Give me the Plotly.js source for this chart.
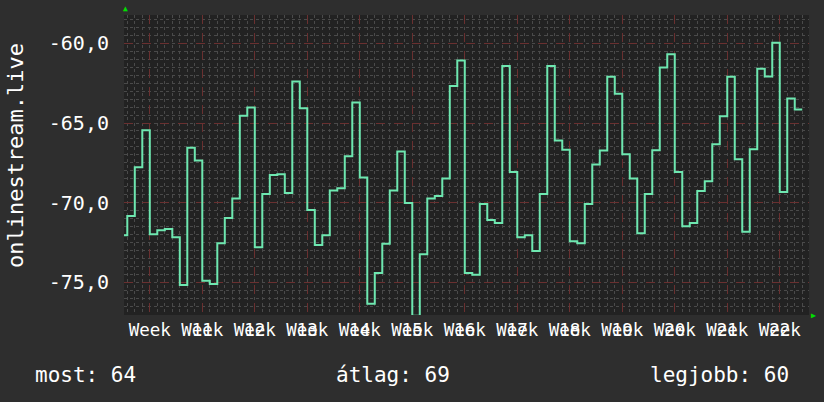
<!DOCTYPE html>
<html>
<head>
<meta charset="utf-8">
<script src="https://cdn.plot.ly/plotly-3.0.1.min.js"></script>
<style>
  html, body { margin: 0; padding: 0; background: #2e2e2e; }
  #graf { width: 824px; height: 402px; }
</style>
</head>
<body>
<div id="graf"></div>
<script>
// daily values, first one is only partly visible at the left edge
let values = [
  -72.04,
  -70.83, -67.77, -65.46, -71.98, -71.73, -71.65, -72.17, -75.17, -66.56, -67.35,
  -74.90, -75.10, -72.54, -70.96, -69.73, -64.54, -64.02, -72.79, -69.46, -68.27,
  -68.21, -69.40, -62.40, -64.08, -70.46, -72.65, -72.04, -69.23, -69.10, -67.08,
  -63.71, -68.42, -76.35, -74.42, -72.58, -69.23, -66.79, -70.02, -77.10, -73.23,
  -69.73, -69.58, -68.48, -62.67, -61.08, -74.42, -74.52, -70.08, -71.08, -71.27,
  -61.42, -68.08, -72.17, -72.04, -73.04, -69.46, -61.42, -66.10, -66.67, -72.42,
  -72.54, -70.08, -67.60, -66.73, -62.10, -63.17, -66.96, -68.48, -71.92, -69.46,
  -66.71, -61.52, -60.69, -68.08, -71.48, -71.27, -69.27, -68.65, -66.33, -64.58,
  -62.10, -67.27, -71.83, -66.65, -61.60, -62.08, -59.96, -69.33, -63.46, -64.15
];
let weekStarts = [3, 10, 17, 24, 31, 38, 45, 52, 59, 66, 73, 80, 87];
let weekNumbers = ['', '11', '12', '13', '14', '15', '16', '17', '18', '19', '20', '21', '22'];
let yTicks = [-60, -65, -70, -75];
let summary = ['most: 64', 'átlag: 69', 'legjobb: 60'];
let seriesName = 'onlinestream.live';

function drawGraf() {
  let days = values.map((v, i) => i - 1);
  // extra point so the last step gets its width
  let xs = days.concat([days[days.length - 1] + 1]);
  let ys = values.concat([values[values.length - 1]]);

  let font = 'DejaVu Sans Mono, monospace';
  let range = [-0.44, 90.9];

  let line = {
    x: xs, y: ys,
    type: 'scatter', mode: 'lines',
    line: { shape: 'hv', color: '#6ee7b0', width: 2 },
    hoverinfo: 'skip',
  };
  // invisible trace so the number axis is drawn
  let dummy = {
    x: [days[1]], y: [values[1]], xaxis: 'x2',
    type: 'scatter', mode: 'markers', marker: { opacity: 0 }, hoverinfo: 'skip',
  };

  let layout = {
    width: 824, height: 402,
    margin: { l: 124, r: 15, t: 15, b: 87 },
    paper_bgcolor: '#2e2e2e',
    plot_bgcolor: '#222222',
    showlegend: false,
    font: { family: font, color: '#ffffff' },
    xaxis: {
      range: range,
      tickmode: 'array',
      tickvals: weekStarts,
      ticktext: weekStarts.map(() => 'Week'),
      tickfont: { size: 17.5, family: font, color: '#ffffff' },
      ticks: '',
      ticklabelstandoff: 2,
      showgrid: true, gridcolor: '#6a3030', griddash: 'dash', gridwidth: 1,
      zeroline: false, showline: false,
      minor: { tickmode: 'linear', tick0: 0, dtick: 1, showgrid: true, gridcolor: '#4a4a4a', griddash: 'dot', gridwidth: 1 },
      fixedrange: true,
    },
    xaxis2: {
      range: range,
      overlaying: 'x', side: 'bottom', anchor: 'y',
      tickmode: 'array',
      tickvals: weekStarts,
      ticktext: weekNumbers,
      tickfont: { size: 17.5, family: font, color: '#ffffff' },
      ticks: '',
      ticklabelstandoff: 2,
      showgrid: false, zeroline: false, showline: false,
      fixedrange: true,
    },
    yaxis: {
      range: [-77.05, -58.22],
      tickmode: 'array',
      tickvals: yTicks,
      ticktext: yTicks.map(v => v.toFixed(1).replace('.', ',')),
      tickfont: { size: 20, family: font, color: '#ffffff' },
      ticks: '',
      ticklabelstandoff: 14,
      showgrid: true, gridcolor: '#6a3030', griddash: 'dash', gridwidth: 1,
      zeroline: false, showline: false,
      minor: { tickmode: 'linear', tick0: 0, dtick: 0.5, showgrid: true, gridcolor: '#4a4a4a', griddash: 'dot', gridwidth: 1 },
      fixedrange: true,
    },
    annotations: [
      { text: seriesName, xref: 'paper', yref: 'paper', x: -0.159, y: 0.53, textangle: -90,
        showarrow: false, xanchor: 'center', yanchor: 'middle', font: { size: 22, family: font, color: '#ffffff' } },
      { text: summary[0], xref: 'paper', yref: 'paper', x: -0.133, y: -0.2, showarrow: false,
        xanchor: 'left', yanchor: 'middle', font: { size: 21, family: font, color: '#ffffff' } },
      { text: summary[1], xref: 'paper', yref: 'paper', x: 0.3066, y: -0.2, showarrow: false,
        xanchor: 'left', yanchor: 'middle', font: { size: 21, family: font, color: '#ffffff' } },
      { text: summary[2], xref: 'paper', yref: 'paper', x: 0.9737, y: -0.2, showarrow: false,
        xanchor: 'right', yanchor: 'middle', font: { size: 21, family: font, color: '#ffffff' } },
      { text: '▲', xref: 'paper', yref: 'paper', x: 0.002, y: 1.0, showarrow: false,
        xanchor: 'center', yanchor: 'bottom', font: { size: 8, color: '#00e000' } },
      { text: '▶', xref: 'paper', yref: 'paper', x: 1.0, y: 0.0, showarrow: false,
        xanchor: 'left', yanchor: 'middle', font: { size: 8, color: '#00e000' } },
    ],
  };
  let config = { displayModeBar: false, staticPlot: true };

  Plotly.newPlot(document.getElementById('graf'), [line, dummy], layout, config);
}
drawGraf();
</script>
</body>
</html>
